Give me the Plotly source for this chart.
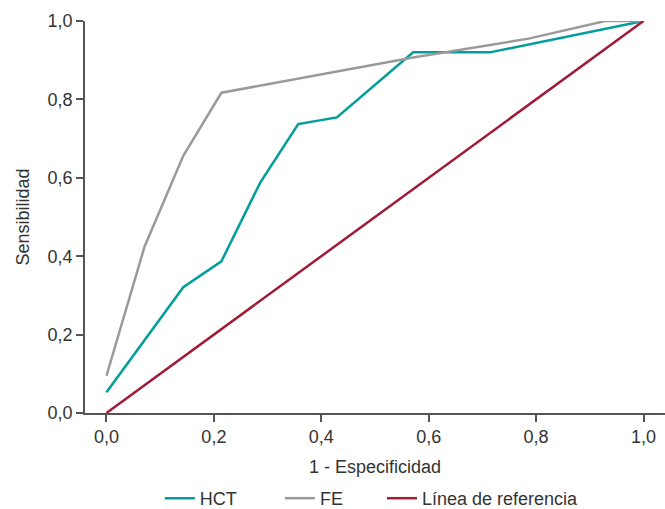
import plotly.graph_objects as go

hct_x = [0.0, 0.143, 0.214, 0.286, 0.357, 0.429, 0.571, 0.714, 1.0]
hct_y = [0.053, 0.321, 0.387, 0.587, 0.737, 0.754, 0.920, 0.920, 1.0]

fe_x = [0.0, 0.071, 0.143, 0.214, 0.571, 0.786, 0.929, 1.0]
fe_y = [0.095, 0.425, 0.656, 0.817, 0.907, 0.955, 1.0, 1.0]

ref_x = [0.0, 1.0]
ref_y = [0.0, 1.0]

fig = go.Figure()
fig.add_trace(go.Scatter(x=hct_x, y=hct_y, mode="lines", name="HCT", legend="legend",
                         line=dict(color="#009e99", width=2.5)))
fig.add_trace(go.Scatter(x=fe_x, y=fe_y, mode="lines", name="FE", legend="legend2",
                         line=dict(color="#9a9a9a", width=2.5)))
fig.add_trace(go.Scatter(x=ref_x, y=ref_y, mode="lines", name="Línea de referencia",
                         legend="legend3", line=dict(color="#a01c36", width=2.5)))

for tr in fig.data:
    tr.cliponaxis = False

leg_common = dict(orientation="h", yref="container", y=(509 - 498.5) / 509,
                  yanchor="middle", xanchor="left",
                  font=dict(size=18, color="#333"), bgcolor="rgba(0,0,0,0)")

fig.update_layout(
    width=665, height=509,
    margin=dict(l=85, r=0, t=21, b=96, autoexpand=False),
    paper_bgcolor="white", plot_bgcolor="white",
    separators=", ",
    font=dict(family="Liberation Sans, Arial, sans-serif", size=18, color="#333"),
    showlegend=True,
    legend=dict(x=0.129, **leg_common),
    legend2=dict(x=0.336, **leg_common),
    legend3=dict(x=0.512, **leg_common),
    xaxis=dict(range=[-0.04, 1.04], tickmode="linear", tick0=0, dtick=0.2,
               tickformat=".1f", showgrid=False, zeroline=False,
               showline=True, linecolor="#555", linewidth=1.5,
               ticks="outside", ticklen=7, tickcolor="#555", tickwidth=1.5,
               tickfont=dict(size=18, color="#333"),
               title=dict(text="1 - Especificidad", standoff=14,
                          font=dict(size=18, color="#333"))),
    yaxis=dict(range=[0, 1.0], tickmode="linear", tick0=0, dtick=0.2,
               tickformat=".1f", showgrid=False, zeroline=False,
               showline=True, linecolor="#555", linewidth=1.5,
               ticks="outside", ticklen=7, tickcolor="#555", tickwidth=1.5,
               tickfont=dict(size=18, color="#333"),
               title=dict(text="Sensibilidad", standoff=13,
                          font=dict(size=18, color="#333"))),
)

fig.write_html("out.html", config={"displayModeBar": False},
               post_script="document.body.style.margin='0';document.body.style.overflow='hidden';")
